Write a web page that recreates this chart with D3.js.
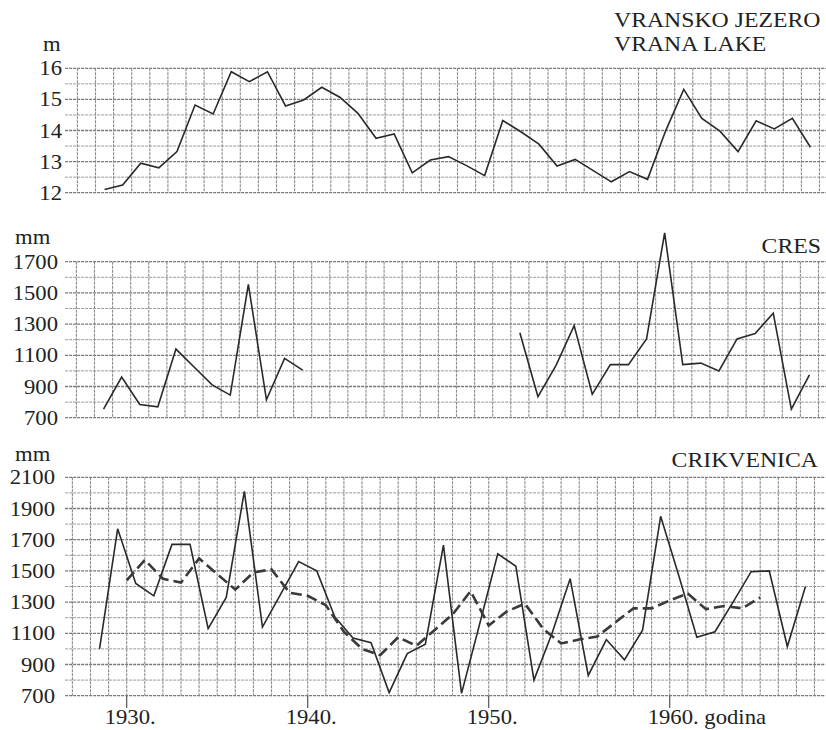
<!DOCTYPE html>
<html>
<head>
<meta charset="utf-8">
<script src="https://cdn.jsdelivr.net/npm/d3@7"></script>
<style>
  body { margin: 0; background: #fff; }
</style>
</head>
<body>
<script>
// years of the annual series
var years = [1928, 1929, 1930, 1931, 1932, 1933, 1934, 1935, 1936, 1937,
             1938, 1939, 1940, 1941, 1942, 1943, 1944, 1945, 1946, 1947,
             1948, 1949, 1950, 1951, 1952, 1953, 1954, 1955, 1956, 1957,
             1958, 1959, 1960, 1961, 1962, 1963, 1964, 1965, 1966, 1967];

// Vransko jezero, water level (m)
var lakeLevel = [12.1, 12.25, 12.95, 12.8, 13.32, 14.82, 14.53, 15.89, 15.57, 15.89,
                 14.79, 14.98, 15.39, 15.07, 14.55, 13.75, 13.89, 12.64, 13.05, 13.16,
                 12.87, 12.55, 14.32, 13.96, 13.56, 12.86, 13.07, 12.71, 12.35, 12.68,
                 12.43, 13.99, 15.32, 14.39, 13.98, 13.32, 14.31, 14.05, 14.39, 13.46];

// Cres, precipitation (mm), no record 1940-1950
var cresRain = [755, 960, 785, 770, 1140, 1025, 910, 845, 1555, 815,
                1080, 1005, null, null, null, null, null, null, null, null,
                null, null, null, 1245, 835, 1035, 1290, 850, 1040, 1040,
                1205, 1885, 1040, 1050, 1000, 1205, 1240, 1370, 755, 975];

// Crikvenica, precipitation (mm)
var crikRain = [1000, 1770, 1420, 1340, 1670, 1670, 1130, 1330, 2010, 1140,
                1350, 1560, 1500, 1205, 1070, 1040, 720, 970, 1030, 1665,
                715, 1160, 1610, 1530, 800, 1100, 1450, 830, 1060, 930,
                1120, 1850, 1470, 1075, 1110, 1300, 1495, 1500, 1015, 1400];

// Crikvenica, smoothed curve (dashed)
var crikMeanYears = [1930, 1931, 1932, 1933, 1934, 1935, 1936, 1937, 1938, 1939,
                     1940, 1941, 1942, 1943, 1944, 1945, 1946, 1947, 1948, 1949,
                     1950, 1951, 1952, 1953, 1954, 1955, 1956, 1957, 1958, 1959,
                     1960, 1961, 1962, 1963, 1964, 1965];
var crikMean = [1440, 1570, 1450, 1425, 1580, 1480, 1380, 1490, 1510, 1360,
                1340, 1280, 1110, 1000, 960, 1075, 1020, 1120, 1220, 1370,
                1150, 1240, 1290, 1130, 1035, 1060, 1080, 1170, 1260, 1260,
                1310, 1355, 1255, 1275, 1260, 1330];

var lakeTicks = [12, 13, 14, 15, 16];
var cresTicks = [700, 900, 1100, 1300, 1500, 1700];
var crikTicks = [700, 900, 1100, 1300, 1500, 1700, 1900, 2100];
var xLabels = [1930, 1940, 1950, 1960];

var svg = d3.select("body")
    .append("svg")
    .attr("width", 826)
    .attr("height", 730)
    .style("display", "block");

var x = d3.scaleLinear()
    .domain([1930, 1960])
    .range([126.7, 669.7]);

var gridYears = d3.range(1927, 1969);

// serif text, slightly widened like the scanned original
function label(sel, px, py, size, anchor) {
    return sel.append("text")
        .attr("transform", "translate(" + px + "," + py + ") scale(1.08,1)")
        .attr("text-anchor", anchor || "start")
        .attr("fill", "#222")
        .style("font-family", "Liberation Serif")
        .style("font-size", size + "px");
}

function panel(opt) {
    var g = svg.append("g").attr("transform", "translate(" + opt.dx + ",0)");
    var y = d3.scaleLinear().domain(opt.domain).range(opt.range);

    // horizontal grid
    var hv = d3.range(opt.domain[0], opt.domain[1] + opt.step / 2, opt.step);
    g.selectAll(".hgrid")
        .data(hv)
        .enter()
        .append("line")
        .attr("x1", x(1926.6) - opt.dx)
        .attr("x2", x(1968.6))
        .attr("y1", function(d) { return y(d); })
        .attr("y2", function(d) { return y(d); })
        .attr("stroke", function(d) { return opt.ticks.indexOf(d) >= 0 ? "#777" : "#9a9a9a"; })
        .attr("stroke-width", function(d) { return opt.ticks.indexOf(d) >= 0 ? 1.3 : 1; })
        .attr("stroke-dasharray", "3,1");

    // vertical grid
    g.selectAll(".vgrid")
        .data(gridYears)
        .enter()
        .append("line")
        .attr("x1", function(d) { return x(d); })
        .attr("x2", function(d) { return x(d); })
        .attr("y1", y(opt.domain[1]))
        .attr("y2", y(opt.domain[0]))
        .attr("stroke", "#8a8a8a")
        .attr("stroke-width", 1.1)
        .attr("stroke-dasharray", "3,1");

    // tick labels
    opt.ticks.forEach(function(t) {
        label(svg, opt.labelX, y(t) + 7, 21, "end").text(t);
    });

    label(svg, opt.unitX, opt.unitY, 21).text(opt.unit);

    var line = d3.line()
        .defined(function(d) { return d[1] != null; })
        .x(function(d) { return x(d[0] + 0.5); })
        .y(function(d) { return y(d[1]); });

    g.append("path")
        .datum(d3.zip(years, opt.values))
        .attr("d", line)
        .attr("fill", "none")
        .attr("stroke", "#2a2a2a")
        .attr("stroke-width", 1.6);

    return { g: g, y: y };
}

panel({
    dx: 5, domain: [12, 16], range: [192.7, 68.3], step: 0.5,
    ticks: lakeTicks, values: lakeLevel, labelX: 62,
    unit: "m", unitX: 43, unitY: 51
});

panel({
    dx: 4, domain: [700, 1700], range: [417.7, 261.7], step: 100,
    ticks: cresTicks, values: cresRain, labelX: 58,
    unit: "mm", unitX: 15, unitY: 244
});

var bottom = panel({
    dx: 0, domain: [700, 2100], range: [695.7, 477.3], step: 100,
    ticks: crikTicks, values: crikRain, labelX: 55,
    unit: "mm", unitX: 15, unitY: 461
});

// smoothed curve
bottom.g.append("path")
    .datum(d3.zip(crikMeanYears, crikMean))
    .attr("d", d3.line()
        .x(function(d) { return x(d[0]); })
        .y(function(d) { return bottom.y(d[1]); }))
    .attr("fill", "none")
    .attr("stroke", "#3a3a3a")
    .attr("stroke-width", 2.6)
    .attr("stroke-dasharray", "11,5");

// x axis ticks and labels
svg.selectAll(".xtick")
    .data(xLabels)
    .enter()
    .append("line")
    .attr("x1", function(d) { return x(d); })
    .attr("x2", function(d) { return x(d); })
    .attr("y1", 695.7)
    .attr("y2", 708)
    .attr("stroke", "#555")
    .attr("stroke-width", 1.2);

xLabels.forEach(function(d) {
    label(svg, x(d) - 22, 724, 21).text(d + "." + (d === 1960 ? " godina" : ""));
});

// station titles
label(svg, 614, 27, 22).text("VRANSKO JEZERO");
label(svg, 614, 51, 22).text("VRANA LAKE");
label(svg, 821, 253, 22, "end").text("CRES");
label(svg, 818, 467, 22, "end").text("CRIKVENICA");
</script>
</body>
</html>
